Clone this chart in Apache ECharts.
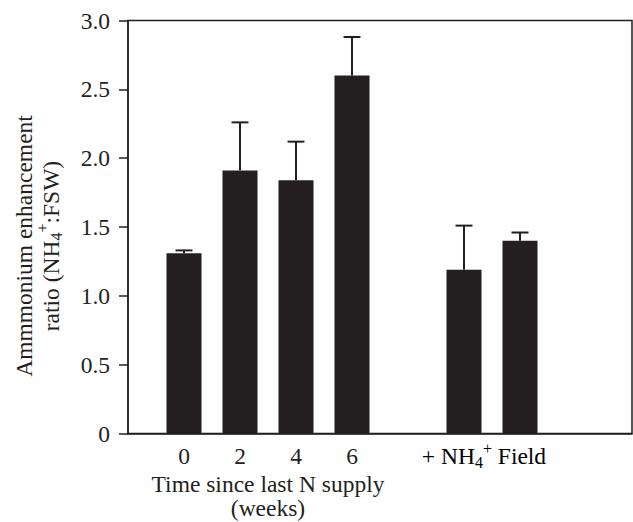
<!DOCTYPE html>
<html>
<head>
<meta charset="utf-8">
<script src="https://cdn.jsdelivr.net/npm/echarts@6/dist/echarts.min.js"></script>
<style>
  html, body { margin: 0; padding: 0; background: #fff; }
  #chart { width: 633px; height: 522px; }
</style>
</head>
<body>
<div id="chart"></div>
<script>
// slots on the x axis: a blank slot on each side and a gap between the two groups
var categories = ['', '0', '2', '4', '6', ' ', '+NH4', 'Field', '  ', '   '];
var weekLabels = ['0', '2', '4', '6'];
var ratioMean = [null, 1.31, 1.91, 1.84, 2.60, null, 1.19, 1.40, null, null];
var ratioUpper = [null, 1.33, 2.26, 2.12, 2.88, null, 1.51, 1.46, null, null];
var yTicks = [0, 0.5, 1.0, 1.5, 2.0, 2.5, 3.0];

(function() {
  var ink = '#231f20';
  var serif = '"Liberation Serif", "DejaVu Serif", serif';
  var fs = 23.5;
  var richText = {
    n: { fontFamily: serif, fontSize: fs, color: ink },
    sub: { fontFamily: serif, fontSize: 16, color: ink, padding: [12, 0, 0, 0] },
    sup: { fontFamily: serif, fontSize: 16, color: ink, padding: [0, 0, 16, 0] }
  };

  var errData = [];
  for (var i = 0; i < categories.length; i++) {
    if (ratioMean[i] != null) errData.push([i, ratioMean[i], ratioUpper[i]]);
  }

  var chart = echarts.init(document.getElementById('chart'), null, { renderer: 'svg' });
  chart.setOption({
    animation: false,
    grid: {
      left: 128, right: 1, top: 20.5, bottom: 88.5, outerBoundsMode: 'none',
      show: true, borderColor: ink, borderWidth: 1.5
    },
    xAxis: {
      type: 'category', data: categories, boundaryGap: false,
      axisLine: { lineStyle: { color: ink, width: 1.5 } },
      axisTick: { show: false },
      axisLabel: {
        color: ink, fontFamily: serif, fontSize: fs, margin: 10, interval: 0,
        formatter: function(v) { return weekLabels.indexOf(v) >= 0 ? v : ''; }
      },
      splitLine: { show: false }
    },
    yAxis: {
      type: 'value', min: 0, max: 3, interval: 0.5,
      name: '{n|Ammmonium enhancement}\n{n|ratio (NH}{sub|4}{sup|+}{n|:FSW)}',
      nameLocation: 'middle', nameRotate: 90, nameGap: 64,
      nameTextStyle: { rich: richText, lineHeight: 27, padding: [0, 38, 0, 0] },
      axisLine: { show: true, lineStyle: { color: ink, width: 1.5 } },
      axisTick: { show: true, length: 9, lineStyle: { color: ink, width: 1.5 } },
      axisLabel: {
        color: ink, fontFamily: serif, fontSize: fs, margin: 18,
        formatter: function(v) { return v === 0 ? '0' : v.toFixed(1); }
      },
      splitLine: { show: false }
    },
    series: [
      {
        type: 'bar', data: ratioMean, barWidth: 35,
        itemStyle: { color: ink }
      },
      {
        type: 'custom', data: errData, encode: { x: 0, y: [1, 2] }, z: 3,
        renderItem: function(params, api) {
          var base = api.coord([api.value(0), api.value(1)]);
          var top = api.coord([api.value(0), api.value(2)]);
          var half = 8.5;
          return {
            type: 'group',
            children: [
              { type: 'line', shape: { x1: base[0], y1: base[1], x2: top[0], y2: top[1] },
                style: { stroke: ink, lineWidth: 2 } },
              { type: 'line', shape: { x1: top[0] - half, y1: top[1], x2: top[0] + half, y2: top[1] },
                style: { stroke: ink, lineWidth: 2 } }
            ]
          };
        }
      }
    ]
  });

  // axis titles under the two groups, placed from the category scale
  var p0 = chart.convertToPixel({ xAxisIndex: 0 }, 1);
  var p6 = chart.convertToPixel({ xAxisIndex: 0 }, 4);
  var pN = chart.convertToPixel({ xAxisIndex: 0 }, 6);
  var pF = chart.convertToPixel({ xAxisIndex: 0 }, 7);
  chart.setOption({
    graphic: [
      { type: 'text', x: (p0 + p6) / 2, y: 484,
        style: { text: 'Time since last N supply', fill: ink, font: fs + 'px ' + serif, align: 'center', verticalAlign: 'middle' } },
      { type: 'text', x: (p0 + p6) / 2, y: 508,
        style: { text: '(weeks)', fill: ink, font: fs + 'px ' + serif, align: 'center', verticalAlign: 'middle' } },
      { type: 'text', x: (pN + pF) / 2 - 8, y: 456,
        style: { text: '{n|+ NH}{sub|4}{sup|+}{n| Field}', rich: richText, align: 'center', verticalAlign: 'middle' } }
    ]
  });
})();
</script>
</body>
</html>
